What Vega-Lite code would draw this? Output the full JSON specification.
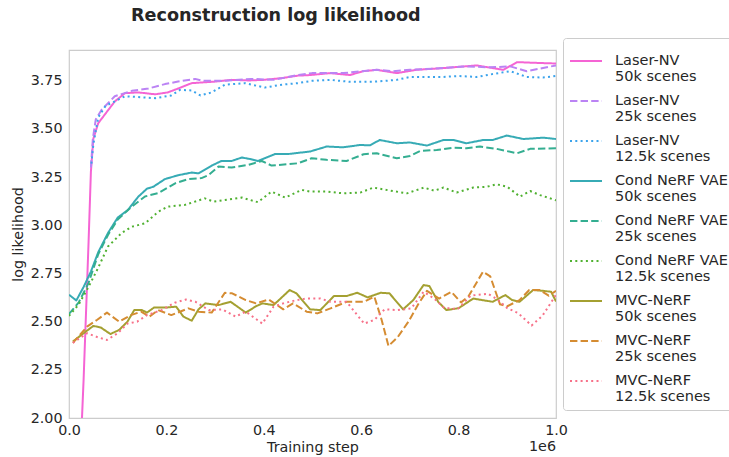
{
  "$schema": "https://vega.github.io/schema/vega-lite/v6.json",
  "autosize": {"type": "none"},
  "width": 487,
  "height": 368,
  "padding": {"left": 69, "top": 50, "right": 173, "bottom": 39},
  "background": "white",
  "title": {"text": "Reconstruction log likelihood", "anchor": "start", "frame": "group", "dx": 62, "fontSize": 17.6, "fontWeight": "bold", "color": "#262626", "font": "DejaVu Sans", "offset": 13},
  "config": {
    "font": "DejaVu Sans",
    "view": {"stroke": "#cccccc", "strokeWidth": 1.2},
    "axis": {"grid": false, "ticks": false, "domain": false, "labelFontSize": 14.3, "titleFontSize": 14.3, "labelColor": "#262626", "titleColor": "#262626", "titleFontWeight": "normal", "labelFlush": false, "labelOverlap": false},
    "style": {"guide-label": {"lineHeight": 16.4}}
  },
  "datasets": {
    "runs": [
      {"series": "Laser-NV\n50k scenes", "step": 20000, "ll": 1.6},
      {"series": "Laser-NV\n50k scenes", "step": 30000, "ll": 2.2},
      {"series": "Laser-NV\n50k scenes", "step": 40000, "ll": 2.9},
      {"series": "Laser-NV\n50k scenes", "step": 45000, "ll": 3.28},
      {"series": "Laser-NV\n50k scenes", "step": 50000, "ll": 3.45},
      {"series": "Laser-NV\n50k scenes", "step": 60000, "ll": 3.53},
      {"series": "Laser-NV\n50k scenes", "step": 75000, "ll": 3.58},
      {"series": "Laser-NV\n50k scenes", "step": 94000, "ll": 3.643},
      {"series": "Laser-NV\n50k scenes", "step": 115000, "ll": 3.686},
      {"series": "Laser-NV\n50k scenes", "step": 142000, "ll": 3.69},
      {"series": "Laser-NV\n50k scenes", "step": 177000, "ll": 3.68},
      {"series": "Laser-NV\n50k scenes", "step": 203000, "ll": 3.69},
      {"series": "Laser-NV\n50k scenes", "step": 224000, "ll": 3.71},
      {"series": "Laser-NV\n50k scenes", "step": 252000, "ll": 3.738},
      {"series": "Laser-NV\n50k scenes", "step": 300000, "ll": 3.746},
      {"series": "Laser-NV\n50k scenes", "step": 334000, "ll": 3.755},
      {"series": "Laser-NV\n50k scenes", "step": 370000, "ll": 3.752},
      {"series": "Laser-NV\n50k scenes", "step": 400000, "ll": 3.755},
      {"series": "Laser-NV\n50k scenes", "step": 437000, "ll": 3.764},
      {"series": "Laser-NV\n50k scenes", "step": 470000, "ll": 3.777},
      {"series": "Laser-NV\n50k scenes", "step": 495000, "ll": 3.78},
      {"series": "Laser-NV\n50k scenes", "step": 536000, "ll": 3.79},
      {"series": "Laser-NV\n50k scenes", "step": 577000, "ll": 3.78},
      {"series": "Laser-NV\n50k scenes", "step": 604000, "ll": 3.8},
      {"series": "Laser-NV\n50k scenes", "step": 632000, "ll": 3.807},
      {"series": "Laser-NV\n50k scenes", "step": 673000, "ll": 3.79},
      {"series": "Laser-NV\n50k scenes", "step": 713000, "ll": 3.807},
      {"series": "Laser-NV\n50k scenes", "step": 768000, "ll": 3.816},
      {"series": "Laser-NV\n50k scenes", "step": 837000, "ll": 3.83},
      {"series": "Laser-NV\n50k scenes", "step": 892000, "ll": 3.807},
      {"series": "Laser-NV\n50k scenes", "step": 920000, "ll": 3.847},
      {"series": "Laser-NV\n50k scenes", "step": 973000, "ll": 3.842},
      {"series": "Laser-NV\n50k scenes", "step": 1000000, "ll": 3.84},

      {"series": "Laser-NV\n25k scenes", "step": 45000, "ll": 3.3},
      {"series": "Laser-NV\n25k scenes", "step": 49000, "ll": 3.45},
      {"series": "Laser-NV\n25k scenes", "step": 55000, "ll": 3.55},
      {"series": "Laser-NV\n25k scenes", "step": 67000, "ll": 3.6},
      {"series": "Laser-NV\n25k scenes", "step": 94000, "ll": 3.67},
      {"series": "Laser-NV\n25k scenes", "step": 129000, "ll": 3.698},
      {"series": "Laser-NV\n25k scenes", "step": 163000, "ll": 3.71},
      {"series": "Laser-NV\n25k scenes", "step": 197000, "ll": 3.733},
      {"series": "Laser-NV\n25k scenes", "step": 224000, "ll": 3.746},
      {"series": "Laser-NV\n25k scenes", "step": 259000, "ll": 3.76},
      {"series": "Laser-NV\n25k scenes", "step": 275000, "ll": 3.75},
      {"series": "Laser-NV\n25k scenes", "step": 320000, "ll": 3.75},
      {"series": "Laser-NV\n25k scenes", "step": 375000, "ll": 3.76},
      {"series": "Laser-NV\n25k scenes", "step": 420000, "ll": 3.755},
      {"series": "Laser-NV\n25k scenes", "step": 470000, "ll": 3.78},
      {"series": "Laser-NV\n25k scenes", "step": 499000, "ll": 3.79},
      {"series": "Laser-NV\n25k scenes", "step": 563000, "ll": 3.79},
      {"series": "Laser-NV\n25k scenes", "step": 632000, "ll": 3.807},
      {"series": "Laser-NV\n25k scenes", "step": 666000, "ll": 3.8},
      {"series": "Laser-NV\n25k scenes", "step": 700000, "ll": 3.807},
      {"series": "Laser-NV\n25k scenes", "step": 768000, "ll": 3.816},
      {"series": "Laser-NV\n25k scenes", "step": 816000, "ll": 3.825},
      {"series": "Laser-NV\n25k scenes", "step": 864000, "ll": 3.82},
      {"series": "Laser-NV\n25k scenes", "step": 906000, "ll": 3.825},
      {"series": "Laser-NV\n25k scenes", "step": 940000, "ll": 3.8},
      {"series": "Laser-NV\n25k scenes", "step": 990000, "ll": 3.825},
      {"series": "Laser-NV\n25k scenes", "step": 1000000, "ll": 3.83},

      {"series": "Laser-NV\n12.5k scenes", "step": 46000, "ll": 3.32},
      {"series": "Laser-NV\n12.5k scenes", "step": 50000, "ll": 3.42},
      {"series": "Laser-NV\n12.5k scenes", "step": 60000, "ll": 3.56},
      {"series": "Laser-NV\n12.5k scenes", "step": 75000, "ll": 3.62},
      {"series": "Laser-NV\n12.5k scenes", "step": 94000, "ll": 3.643},
      {"series": "Laser-NV\n12.5k scenes", "step": 115000, "ll": 3.67},
      {"series": "Laser-NV\n12.5k scenes", "step": 146000, "ll": 3.665},
      {"series": "Laser-NV\n12.5k scenes", "step": 177000, "ll": 3.66},
      {"series": "Laser-NV\n12.5k scenes", "step": 210000, "ll": 3.674},
      {"series": "Laser-NV\n12.5k scenes", "step": 228000, "ll": 3.703},
      {"series": "Laser-NV\n12.5k scenes", "step": 252000, "ll": 3.7},
      {"series": "Laser-NV\n12.5k scenes", "step": 270000, "ll": 3.674},
      {"series": "Laser-NV\n12.5k scenes", "step": 293000, "ll": 3.69},
      {"series": "Laser-NV\n12.5k scenes", "step": 320000, "ll": 3.73},
      {"series": "Laser-NV\n12.5k scenes", "step": 361000, "ll": 3.738},
      {"series": "Laser-NV\n12.5k scenes", "step": 402000, "ll": 3.715},
      {"series": "Laser-NV\n12.5k scenes", "step": 437000, "ll": 3.73},
      {"series": "Laser-NV\n12.5k scenes", "step": 470000, "ll": 3.738},
      {"series": "Laser-NV\n12.5k scenes", "step": 499000, "ll": 3.75},
      {"series": "Laser-NV\n12.5k scenes", "step": 536000, "ll": 3.755},
      {"series": "Laser-NV\n12.5k scenes", "step": 577000, "ll": 3.745},
      {"series": "Laser-NV\n12.5k scenes", "step": 632000, "ll": 3.746},
      {"series": "Laser-NV\n12.5k scenes", "step": 673000, "ll": 3.755},
      {"series": "Laser-NV\n12.5k scenes", "step": 700000, "ll": 3.77},
      {"series": "Laser-NV\n12.5k scenes", "step": 768000, "ll": 3.77},
      {"series": "Laser-NV\n12.5k scenes", "step": 800000, "ll": 3.775},
      {"series": "Laser-NV\n12.5k scenes", "step": 837000, "ll": 3.77},
      {"series": "Laser-NV\n12.5k scenes", "step": 870000, "ll": 3.785},
      {"series": "Laser-NV\n12.5k scenes", "step": 906000, "ll": 3.8},
      {"series": "Laser-NV\n12.5k scenes", "step": 940000, "ll": 3.77},
      {"series": "Laser-NV\n12.5k scenes", "step": 973000, "ll": 3.767},
      {"series": "Laser-NV\n12.5k scenes", "step": 1000000, "ll": 3.775},

      {"series": "Cond NeRF VAE\n50k scenes", "step": 0, "ll": 2.64},
      {"series": "Cond NeRF VAE\n50k scenes", "step": 15000, "ll": 2.61},
      {"series": "Cond NeRF VAE\n50k scenes", "step": 30000, "ll": 2.68},
      {"series": "Cond NeRF VAE\n50k scenes", "step": 45000, "ll": 2.76},
      {"series": "Cond NeRF VAE\n50k scenes", "step": 60000, "ll": 2.86},
      {"series": "Cond NeRF VAE\n50k scenes", "step": 80000, "ll": 2.96},
      {"series": "Cond NeRF VAE\n50k scenes", "step": 100000, "ll": 3.04},
      {"series": "Cond NeRF VAE\n50k scenes", "step": 121000, "ll": 3.08},
      {"series": "Cond NeRF VAE\n50k scenes", "step": 142000, "ll": 3.148},
      {"series": "Cond NeRF VAE\n50k scenes", "step": 160000, "ll": 3.19},
      {"series": "Cond NeRF VAE\n50k scenes", "step": 173000, "ll": 3.2},
      {"series": "Cond NeRF VAE\n50k scenes", "step": 197000, "ll": 3.24},
      {"series": "Cond NeRF VAE\n50k scenes", "step": 224000, "ll": 3.26},
      {"series": "Cond NeRF VAE\n50k scenes", "step": 252000, "ll": 3.274},
      {"series": "Cond NeRF VAE\n50k scenes", "step": 266000, "ll": 3.27},
      {"series": "Cond NeRF VAE\n50k scenes", "step": 293000, "ll": 3.31},
      {"series": "Cond NeRF VAE\n50k scenes", "step": 313000, "ll": 3.334},
      {"series": "Cond NeRF VAE\n50k scenes", "step": 334000, "ll": 3.334},
      {"series": "Cond NeRF VAE\n50k scenes", "step": 355000, "ll": 3.352},
      {"series": "Cond NeRF VAE\n50k scenes", "step": 370000, "ll": 3.345},
      {"series": "Cond NeRF VAE\n50k scenes", "step": 388000, "ll": 3.334},
      {"series": "Cond NeRF VAE\n50k scenes", "step": 423000, "ll": 3.37},
      {"series": "Cond NeRF VAE\n50k scenes", "step": 450000, "ll": 3.37},
      {"series": "Cond NeRF VAE\n50k scenes", "step": 470000, "ll": 3.376},
      {"series": "Cond NeRF VAE\n50k scenes", "step": 495000, "ll": 3.383},
      {"series": "Cond NeRF VAE\n50k scenes", "step": 529000, "ll": 3.409},
      {"series": "Cond NeRF VAE\n50k scenes", "step": 563000, "ll": 3.405},
      {"series": "Cond NeRF VAE\n50k scenes", "step": 598000, "ll": 3.417},
      {"series": "Cond NeRF VAE\n50k scenes", "step": 618000, "ll": 3.415},
      {"series": "Cond NeRF VAE\n50k scenes", "step": 638000, "ll": 3.443},
      {"series": "Cond NeRF VAE\n50k scenes", "step": 673000, "ll": 3.426},
      {"series": "Cond NeRF VAE\n50k scenes", "step": 700000, "ll": 3.43},
      {"series": "Cond NeRF VAE\n50k scenes", "step": 735000, "ll": 3.414},
      {"series": "Cond NeRF VAE\n50k scenes", "step": 769000, "ll": 3.443},
      {"series": "Cond NeRF VAE\n50k scenes", "step": 790000, "ll": 3.443},
      {"series": "Cond NeRF VAE\n50k scenes", "step": 816000, "ll": 3.426},
      {"series": "Cond NeRF VAE\n50k scenes", "step": 851000, "ll": 3.443},
      {"series": "Cond NeRF VAE\n50k scenes", "step": 870000, "ll": 3.443},
      {"series": "Cond NeRF VAE\n50k scenes", "step": 899000, "ll": 3.466},
      {"series": "Cond NeRF VAE\n50k scenes", "step": 933000, "ll": 3.448},
      {"series": "Cond NeRF VAE\n50k scenes", "step": 974000, "ll": 3.455},
      {"series": "Cond NeRF VAE\n50k scenes", "step": 1000000, "ll": 3.448},

      {"series": "Cond NeRF VAE\n25k scenes", "step": 0, "ll": 2.54},
      {"series": "Cond NeRF VAE\n25k scenes", "step": 20000, "ll": 2.6},
      {"series": "Cond NeRF VAE\n25k scenes", "step": 40000, "ll": 2.7},
      {"series": "Cond NeRF VAE\n25k scenes", "step": 60000, "ll": 2.85},
      {"series": "Cond NeRF VAE\n25k scenes", "step": 80000, "ll": 2.95},
      {"series": "Cond NeRF VAE\n25k scenes", "step": 100000, "ll": 3.03},
      {"series": "Cond NeRF VAE\n25k scenes", "step": 129000, "ll": 3.097},
      {"series": "Cond NeRF VAE\n25k scenes", "step": 156000, "ll": 3.15},
      {"series": "Cond NeRF VAE\n25k scenes", "step": 183000, "ll": 3.167},
      {"series": "Cond NeRF VAE\n25k scenes", "step": 218000, "ll": 3.218},
      {"series": "Cond NeRF VAE\n25k scenes", "step": 245000, "ll": 3.24},
      {"series": "Cond NeRF VAE\n25k scenes", "step": 272000, "ll": 3.245},
      {"series": "Cond NeRF VAE\n25k scenes", "step": 286000, "ll": 3.26},
      {"series": "Cond NeRF VAE\n25k scenes", "step": 307000, "ll": 3.305},
      {"series": "Cond NeRF VAE\n25k scenes", "step": 334000, "ll": 3.3},
      {"series": "Cond NeRF VAE\n25k scenes", "step": 368000, "ll": 3.314},
      {"series": "Cond NeRF VAE\n25k scenes", "step": 396000, "ll": 3.334},
      {"series": "Cond NeRF VAE\n25k scenes", "step": 416000, "ll": 3.31},
      {"series": "Cond NeRF VAE\n25k scenes", "step": 470000, "ll": 3.322},
      {"series": "Cond NeRF VAE\n25k scenes", "step": 498000, "ll": 3.348},
      {"series": "Cond NeRF VAE\n25k scenes", "step": 529000, "ll": 3.34},
      {"series": "Cond NeRF VAE\n25k scenes", "step": 570000, "ll": 3.334},
      {"series": "Cond NeRF VAE\n25k scenes", "step": 605000, "ll": 3.369},
      {"series": "Cond NeRF VAE\n25k scenes", "step": 632000, "ll": 3.374},
      {"series": "Cond NeRF VAE\n25k scenes", "step": 673000, "ll": 3.348},
      {"series": "Cond NeRF VAE\n25k scenes", "step": 700000, "ll": 3.36},
      {"series": "Cond NeRF VAE\n25k scenes", "step": 721000, "ll": 3.386},
      {"series": "Cond NeRF VAE\n25k scenes", "step": 755000, "ll": 3.391},
      {"series": "Cond NeRF VAE\n25k scenes", "step": 789000, "ll": 3.403},
      {"series": "Cond NeRF VAE\n25k scenes", "step": 816000, "ll": 3.4},
      {"series": "Cond NeRF VAE\n25k scenes", "step": 844000, "ll": 3.409},
      {"series": "Cond NeRF VAE\n25k scenes", "step": 878000, "ll": 3.397},
      {"series": "Cond NeRF VAE\n25k scenes", "step": 920000, "ll": 3.374},
      {"series": "Cond NeRF VAE\n25k scenes", "step": 947000, "ll": 3.397},
      {"series": "Cond NeRF VAE\n25k scenes", "step": 1000000, "ll": 3.4},

      {"series": "Cond NeRF VAE\n12.5k scenes", "step": 0, "ll": 2.53},
      {"series": "Cond NeRF VAE\n12.5k scenes", "step": 20000, "ll": 2.59},
      {"series": "Cond NeRF VAE\n12.5k scenes", "step": 40000, "ll": 2.68},
      {"series": "Cond NeRF VAE\n12.5k scenes", "step": 60000, "ll": 2.78},
      {"series": "Cond NeRF VAE\n12.5k scenes", "step": 80000, "ll": 2.89},
      {"series": "Cond NeRF VAE\n12.5k scenes", "step": 108000, "ll": 2.96},
      {"series": "Cond NeRF VAE\n12.5k scenes", "step": 129000, "ll": 2.993},
      {"series": "Cond NeRF VAE\n12.5k scenes", "step": 156000, "ll": 3.01},
      {"series": "Cond NeRF VAE\n12.5k scenes", "step": 183000, "ll": 3.07},
      {"series": "Cond NeRF VAE\n12.5k scenes", "step": 203000, "ll": 3.097},
      {"series": "Cond NeRF VAE\n12.5k scenes", "step": 238000, "ll": 3.106},
      {"series": "Cond NeRF VAE\n12.5k scenes", "step": 279000, "ll": 3.14},
      {"series": "Cond NeRF VAE\n12.5k scenes", "step": 297000, "ll": 3.123},
      {"series": "Cond NeRF VAE\n12.5k scenes", "step": 355000, "ll": 3.144},
      {"series": "Cond NeRF VAE\n12.5k scenes", "step": 388000, "ll": 3.12},
      {"series": "Cond NeRF VAE\n12.5k scenes", "step": 416000, "ll": 3.175},
      {"series": "Cond NeRF VAE\n12.5k scenes", "step": 444000, "ll": 3.144},
      {"series": "Cond NeRF VAE\n12.5k scenes", "step": 478000, "ll": 3.184},
      {"series": "Cond NeRF VAE\n12.5k scenes", "step": 495000, "ll": 3.175},
      {"series": "Cond NeRF VAE\n12.5k scenes", "step": 529000, "ll": 3.175},
      {"series": "Cond NeRF VAE\n12.5k scenes", "step": 563000, "ll": 3.166},
      {"series": "Cond NeRF VAE\n12.5k scenes", "step": 598000, "ll": 3.17},
      {"series": "Cond NeRF VAE\n12.5k scenes", "step": 625000, "ll": 3.196},
      {"series": "Cond NeRF VAE\n12.5k scenes", "step": 660000, "ll": 3.18},
      {"series": "Cond NeRF VAE\n12.5k scenes", "step": 694000, "ll": 3.166},
      {"series": "Cond NeRF VAE\n12.5k scenes", "step": 729000, "ll": 3.196},
      {"series": "Cond NeRF VAE\n12.5k scenes", "step": 750000, "ll": 3.18},
      {"series": "Cond NeRF VAE\n12.5k scenes", "step": 769000, "ll": 3.196},
      {"series": "Cond NeRF VAE\n12.5k scenes", "step": 796000, "ll": 3.17},
      {"series": "Cond NeRF VAE\n12.5k scenes", "step": 830000, "ll": 3.196},
      {"series": "Cond NeRF VAE\n12.5k scenes", "step": 858000, "ll": 3.2},
      {"series": "Cond NeRF VAE\n12.5k scenes", "step": 878000, "ll": 3.213},
      {"series": "Cond NeRF VAE\n12.5k scenes", "step": 900000, "ll": 3.2},
      {"series": "Cond NeRF VAE\n12.5k scenes", "step": 926000, "ll": 3.149},
      {"series": "Cond NeRF VAE\n12.5k scenes", "step": 947000, "ll": 3.178},
      {"series": "Cond NeRF VAE\n12.5k scenes", "step": 967000, "ll": 3.157},
      {"series": "Cond NeRF VAE\n12.5k scenes", "step": 1000000, "ll": 3.13},

      {"series": "MVC-NeRF\n50k scenes", "step": 8000, "ll": 2.397},
      {"series": "MVC-NeRF\n50k scenes", "step": 30000, "ll": 2.44},
      {"series": "MVC-NeRF\n50k scenes", "step": 50000, "ll": 2.478},
      {"series": "MVC-NeRF\n50k scenes", "step": 65000, "ll": 2.47},
      {"series": "MVC-NeRF\n50k scenes", "step": 85000, "ll": 2.436},
      {"series": "MVC-NeRF\n50k scenes", "step": 103000, "ll": 2.457},
      {"series": "MVC-NeRF\n50k scenes", "step": 120000, "ll": 2.5},
      {"series": "MVC-NeRF\n50k scenes", "step": 134000, "ll": 2.56},
      {"series": "MVC-NeRF\n50k scenes", "step": 150000, "ll": 2.56},
      {"series": "MVC-NeRF\n50k scenes", "step": 160000, "ll": 2.547},
      {"series": "MVC-NeRF\n50k scenes", "step": 175000, "ll": 2.574},
      {"series": "MVC-NeRF\n50k scenes", "step": 203000, "ll": 2.574},
      {"series": "MVC-NeRF\n50k scenes", "step": 220000, "ll": 2.578},
      {"series": "MVC-NeRF\n50k scenes", "step": 235000, "ll": 2.526},
      {"series": "MVC-NeRF\n50k scenes", "step": 252000, "ll": 2.505},
      {"series": "MVC-NeRF\n50k scenes", "step": 266000, "ll": 2.564},
      {"series": "MVC-NeRF\n50k scenes", "step": 280000, "ll": 2.595},
      {"series": "MVC-NeRF\n50k scenes", "step": 307000, "ll": 2.586},
      {"series": "MVC-NeRF\n50k scenes", "step": 332000, "ll": 2.603},
      {"series": "MVC-NeRF\n50k scenes", "step": 363000, "ll": 2.547},
      {"series": "MVC-NeRF\n50k scenes", "step": 384000, "ll": 2.58},
      {"series": "MVC-NeRF\n50k scenes", "step": 397000, "ll": 2.595},
      {"series": "MVC-NeRF\n50k scenes", "step": 420000, "ll": 2.586},
      {"series": "MVC-NeRF\n50k scenes", "step": 453000, "ll": 2.664},
      {"series": "MVC-NeRF\n50k scenes", "step": 467000, "ll": 2.647},
      {"series": "MVC-NeRF\n50k scenes", "step": 495000, "ll": 2.564},
      {"series": "MVC-NeRF\n50k scenes", "step": 516000, "ll": 2.56},
      {"series": "MVC-NeRF\n50k scenes", "step": 544000, "ll": 2.633},
      {"series": "MVC-NeRF\n50k scenes", "step": 570000, "ll": 2.633},
      {"series": "MVC-NeRF\n50k scenes", "step": 592000, "ll": 2.65},
      {"series": "MVC-NeRF\n50k scenes", "step": 613000, "ll": 2.626},
      {"series": "MVC-NeRF\n50k scenes", "step": 640000, "ll": 2.65},
      {"series": "MVC-NeRF\n50k scenes", "step": 658000, "ll": 2.647},
      {"series": "MVC-NeRF\n50k scenes", "step": 686000, "ll": 2.564},
      {"series": "MVC-NeRF\n50k scenes", "step": 707000, "ll": 2.612},
      {"series": "MVC-NeRF\n50k scenes", "step": 728000, "ll": 2.69},
      {"series": "MVC-NeRF\n50k scenes", "step": 740000, "ll": 2.685},
      {"series": "MVC-NeRF\n50k scenes", "step": 758000, "ll": 2.603},
      {"series": "MVC-NeRF\n50k scenes", "step": 775000, "ll": 2.56},
      {"series": "MVC-NeRF\n50k scenes", "step": 800000, "ll": 2.57},
      {"series": "MVC-NeRF\n50k scenes", "step": 830000, "ll": 2.62},
      {"series": "MVC-NeRF\n50k scenes", "step": 870000, "ll": 2.603},
      {"series": "MVC-NeRF\n50k scenes", "step": 896000, "ll": 2.638},
      {"series": "MVC-NeRF\n50k scenes", "step": 910000, "ll": 2.612},
      {"series": "MVC-NeRF\n50k scenes", "step": 925000, "ll": 2.603},
      {"series": "MVC-NeRF\n50k scenes", "step": 953000, "ll": 2.664},
      {"series": "MVC-NeRF\n50k scenes", "step": 974000, "ll": 2.66},
      {"series": "MVC-NeRF\n50k scenes", "step": 990000, "ll": 2.655},
      {"series": "MVC-NeRF\n50k scenes", "step": 1000000, "ll": 2.605},

      {"series": "MVC-NeRF\n25k scenes", "step": 8000, "ll": 2.39},
      {"series": "MVC-NeRF\n25k scenes", "step": 37000, "ll": 2.474},
      {"series": "MVC-NeRF\n25k scenes", "step": 58000, "ll": 2.51},
      {"series": "MVC-NeRF\n25k scenes", "step": 78000, "ll": 2.547},
      {"series": "MVC-NeRF\n25k scenes", "step": 103000, "ll": 2.5},
      {"series": "MVC-NeRF\n25k scenes", "step": 127000, "ll": 2.534},
      {"series": "MVC-NeRF\n25k scenes", "step": 148000, "ll": 2.552},
      {"series": "MVC-NeRF\n25k scenes", "step": 165000, "ll": 2.526},
      {"series": "MVC-NeRF\n25k scenes", "step": 183000, "ll": 2.56},
      {"series": "MVC-NeRF\n25k scenes", "step": 210000, "ll": 2.534},
      {"series": "MVC-NeRF\n25k scenes", "step": 245000, "ll": 2.569},
      {"series": "MVC-NeRF\n25k scenes", "step": 266000, "ll": 2.552},
      {"series": "MVC-NeRF\n25k scenes", "step": 293000, "ll": 2.547},
      {"series": "MVC-NeRF\n25k scenes", "step": 320000, "ll": 2.65},
      {"series": "MVC-NeRF\n25k scenes", "step": 335000, "ll": 2.647},
      {"series": "MVC-NeRF\n25k scenes", "step": 363000, "ll": 2.612},
      {"series": "MVC-NeRF\n25k scenes", "step": 384000, "ll": 2.595},
      {"series": "MVC-NeRF\n25k scenes", "step": 410000, "ll": 2.615},
      {"series": "MVC-NeRF\n25k scenes", "step": 440000, "ll": 2.564},
      {"series": "MVC-NeRF\n25k scenes", "step": 460000, "ll": 2.595},
      {"series": "MVC-NeRF\n25k scenes", "step": 488000, "ll": 2.552},
      {"series": "MVC-NeRF\n25k scenes", "step": 510000, "ll": 2.543},
      {"series": "MVC-NeRF\n25k scenes", "step": 537000, "ll": 2.569},
      {"series": "MVC-NeRF\n25k scenes", "step": 570000, "ll": 2.603},
      {"series": "MVC-NeRF\n25k scenes", "step": 606000, "ll": 2.603},
      {"series": "MVC-NeRF\n25k scenes", "step": 627000, "ll": 2.63},
      {"series": "MVC-NeRF\n25k scenes", "step": 642000, "ll": 2.509},
      {"series": "MVC-NeRF\n25k scenes", "step": 656000, "ll": 2.374},
      {"series": "MVC-NeRF\n25k scenes", "step": 675000, "ll": 2.42},
      {"series": "MVC-NeRF\n25k scenes", "step": 697000, "ll": 2.5},
      {"series": "MVC-NeRF\n25k scenes", "step": 717000, "ll": 2.59},
      {"series": "MVC-NeRF\n25k scenes", "step": 735000, "ll": 2.66},
      {"series": "MVC-NeRF\n25k scenes", "step": 760000, "ll": 2.62},
      {"series": "MVC-NeRF\n25k scenes", "step": 785000, "ll": 2.655},
      {"series": "MVC-NeRF\n25k scenes", "step": 805000, "ll": 2.6},
      {"series": "MVC-NeRF\n25k scenes", "step": 820000, "ll": 2.63},
      {"series": "MVC-NeRF\n25k scenes", "step": 850000, "ll": 2.759},
      {"series": "MVC-NeRF\n25k scenes", "step": 865000, "ll": 2.735},
      {"series": "MVC-NeRF\n25k scenes", "step": 885000, "ll": 2.59},
      {"series": "MVC-NeRF\n25k scenes", "step": 900000, "ll": 2.58},
      {"series": "MVC-NeRF\n25k scenes", "step": 925000, "ll": 2.612},
      {"series": "MVC-NeRF\n25k scenes", "step": 945000, "ll": 2.664},
      {"series": "MVC-NeRF\n25k scenes", "step": 967000, "ll": 2.664},
      {"series": "MVC-NeRF\n25k scenes", "step": 985000, "ll": 2.635},
      {"series": "MVC-NeRF\n25k scenes", "step": 1000000, "ll": 2.66},

      {"series": "MVC-NeRF\n12.5k scenes", "step": 8000, "ll": 2.39},
      {"series": "MVC-NeRF\n12.5k scenes", "step": 37000, "ll": 2.44},
      {"series": "MVC-NeRF\n12.5k scenes", "step": 58000, "ll": 2.42},
      {"series": "MVC-NeRF\n12.5k scenes", "step": 78000, "ll": 2.405},
      {"series": "MVC-NeRF\n12.5k scenes", "step": 100000, "ll": 2.44},
      {"series": "MVC-NeRF\n12.5k scenes", "step": 120000, "ll": 2.49},
      {"series": "MVC-NeRF\n12.5k scenes", "step": 140000, "ll": 2.5},
      {"series": "MVC-NeRF\n12.5k scenes", "step": 160000, "ll": 2.534},
      {"series": "MVC-NeRF\n12.5k scenes", "step": 190000, "ll": 2.56},
      {"series": "MVC-NeRF\n12.5k scenes", "step": 217000, "ll": 2.598},
      {"series": "MVC-NeRF\n12.5k scenes", "step": 240000, "ll": 2.615},
      {"series": "MVC-NeRF\n12.5k scenes", "step": 260000, "ll": 2.603},
      {"series": "MVC-NeRF\n12.5k scenes", "step": 287000, "ll": 2.56},
      {"series": "MVC-NeRF\n12.5k scenes", "step": 315000, "ll": 2.564},
      {"series": "MVC-NeRF\n12.5k scenes", "step": 342000, "ll": 2.526},
      {"series": "MVC-NeRF\n12.5k scenes", "step": 363000, "ll": 2.552},
      {"series": "MVC-NeRF\n12.5k scenes", "step": 397000, "ll": 2.49},
      {"series": "MVC-NeRF\n12.5k scenes", "step": 420000, "ll": 2.578},
      {"series": "MVC-NeRF\n12.5k scenes", "step": 440000, "ll": 2.595},
      {"series": "MVC-NeRF\n12.5k scenes", "step": 467000, "ll": 2.612},
      {"series": "MVC-NeRF\n12.5k scenes", "step": 488000, "ll": 2.62},
      {"series": "MVC-NeRF\n12.5k scenes", "step": 516000, "ll": 2.62},
      {"series": "MVC-NeRF\n12.5k scenes", "step": 537000, "ll": 2.603},
      {"series": "MVC-NeRF\n12.5k scenes", "step": 570000, "ll": 2.603},
      {"series": "MVC-NeRF\n12.5k scenes", "step": 606000, "ll": 2.49},
      {"series": "MVC-NeRF\n12.5k scenes", "step": 627000, "ll": 2.509},
      {"series": "MVC-NeRF\n12.5k scenes", "step": 648000, "ll": 2.564},
      {"series": "MVC-NeRF\n12.5k scenes", "step": 675000, "ll": 2.56},
      {"series": "MVC-NeRF\n12.5k scenes", "step": 703000, "ll": 2.569},
      {"series": "MVC-NeRF\n12.5k scenes", "step": 728000, "ll": 2.655},
      {"series": "MVC-NeRF\n12.5k scenes", "step": 750000, "ll": 2.62},
      {"series": "MVC-NeRF\n12.5k scenes", "step": 770000, "ll": 2.572},
      {"series": "MVC-NeRF\n12.5k scenes", "step": 798000, "ll": 2.565},
      {"series": "MVC-NeRF\n12.5k scenes", "step": 825000, "ll": 2.635},
      {"series": "MVC-NeRF\n12.5k scenes", "step": 860000, "ll": 2.645},
      {"series": "MVC-NeRF\n12.5k scenes", "step": 880000, "ll": 2.615},
      {"series": "MVC-NeRF\n12.5k scenes", "step": 900000, "ll": 2.57},
      {"series": "MVC-NeRF\n12.5k scenes", "step": 922000, "ll": 2.545},
      {"series": "MVC-NeRF\n12.5k scenes", "step": 950000, "ll": 2.48},
      {"series": "MVC-NeRF\n12.5k scenes", "step": 972000, "ll": 2.53},
      {"series": "MVC-NeRF\n12.5k scenes", "step": 990000, "ll": 2.6},
      {"series": "MVC-NeRF\n12.5k scenes", "step": 1000000, "ll": 2.64}
    ],
    "offset": [{"label": "1e6", "step": 1000000, "ll": 2.0}]
  },
  "layer": [
    {
      "data": {"name": "runs"},
      "mark": {"type": "line", "strokeWidth": 2, "clip": true, "strokeJoin": "round"},
      "encoding": {
        "x": {"field": "step", "type": "quantitative", "scale": {"domain": [0, 1000000], "nice": false, "zero": false},
              "axis": {"title": "Training step", "values": [0, 200000, 400000, 600000, 800000, 1000000], "labelExpr": "format(datum.value / 1000000, '.1f')", "labelPadding": 5, "titlePadding": 3}},
        "y": {"field": "ll", "type": "quantitative", "scale": {"domain": [2.0, 3.91], "nice": false, "zero": false},
              "axis": {"title": "log likelihood", "values": [2.0, 2.25, 2.5, 2.75, 3.0, 3.25, 3.5, 3.75], "format": ".2f", "labelPadding": 7, "titlePadding": 5}},
        "color": {"field": "series", "type": "nominal",
          "scale": {"domain": ["Laser-NV\n50k scenes", "Laser-NV\n25k scenes", "Laser-NV\n12.5k scenes", "Cond NeRF VAE\n50k scenes", "Cond NeRF VAE\n25k scenes", "Cond NeRF VAE\n12.5k scenes", "MVC-NeRF\n50k scenes", "MVC-NeRF\n25k scenes", "MVC-NeRF\n12.5k scenes"],
                    "range": ["#f564d4", "#bb83f4", "#3ba3ec", "#37abb5", "#34ae91", "#50b131", "#a4a031", "#d58c32", "#f77189"]},
          "legend": {"title": null, "orient": "none", "legendX": 494, "legendY": -12, "symbolType": "stroke", "symbolSize": 1024, "symbolStrokeWidth": 2, "labelFontSize": 14.5, "labelColor": "#262626", "labelBaseline": "middle", "labelExpr": "split(datum.label, '\\n')", "labelOffset": 12, "rowPadding": 0, "padding": 6, "strokeColor": "#cccccc", "fillColor": "white", "cornerRadius": 3, "labelLimit": 300}},
        "strokeDash": {"field": "series", "type": "nominal",
          "scale": {"domain": ["Laser-NV\n50k scenes", "Laser-NV\n25k scenes", "Laser-NV\n12.5k scenes", "Cond NeRF VAE\n50k scenes", "Cond NeRF VAE\n25k scenes", "Cond NeRF VAE\n12.5k scenes", "MVC-NeRF\n50k scenes", "MVC-NeRF\n25k scenes", "MVC-NeRF\n12.5k scenes"],
                    "range": [[1, 0], [7.4, 3.2], [2, 3.3], [1, 0], [7.4, 3.2], [2, 3.3], [1, 0], [7.4, 3.2], [2, 3.3]]}}
      }
    },
    {
      "data": {"name": "offset"},
      "mark": {"type": "text", "align": "right", "baseline": "middle", "dy": 29, "fontSize": 14.3, "color": "#262626"},
      "encoding": {
        "x": {"field": "step", "type": "quantitative"},
        "y": {"field": "ll", "type": "quantitative"},
        "text": {"field": "label"}
      }
    }
  ]
}
